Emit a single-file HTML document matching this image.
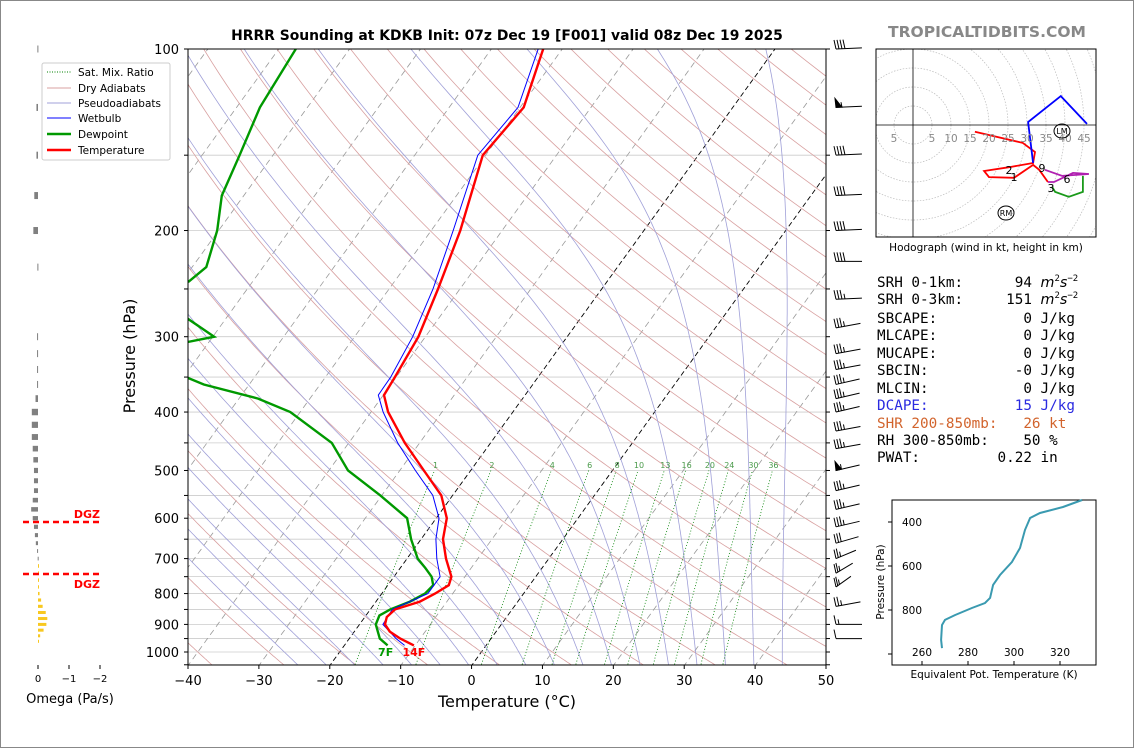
<!DOCTYPE html>
<html><head><meta charset="utf-8"><style>
html,body{margin:0;padding:0;background:#fff;}
svg{display:block;font-family:"DejaVu Sans","Liberation Sans",sans-serif;}
</style></head><body>
<svg id="s" width="1134" height="748" viewBox="0 0 1134 748" xmlns="http://www.w3.org/2000/svg">
<rect x="0.5" y="0.5" width="1133" height="747" fill="#fff" stroke="#888"/>
<defs><clipPath id="pc"><rect x="188" y="49" width="638" height="616"/></clipPath>
<clipPath id="hc"><rect x="876" y="49" width="220" height="188"/></clipPath></defs>
<g id="bg" clip-path="url(#pc)"></g>
<g id="prof" clip-path="url(#pc)"></g>
<g id="ax"></g>
<text x="507" y="40" font-size="13.9" font-weight="bold" text-anchor="middle">HRRR Sounding at KDKB Init: 07z Dec 19 [F001] valid 08z Dec 19 2025</text>
<text x="987" y="37" font-size="15.5" font-weight="bold" fill="#888" text-anchor="middle">TROPICALTIDBITS.COM</text>
<text x="507" y="707" font-size="16" text-anchor="middle">Temperature (°C)</text>
<text transform="translate(135,356) rotate(-90)" font-size="16" text-anchor="middle">Pressure (hPa)</text>
<g>
<rect x="42" y="63" width="128" height="97" fill="#fff" stroke="#ccc" rx="2"/>
<line x1="47" y1="72" x2="71" y2="72" stroke="green" stroke-dasharray="1,1.5"/>
<text x="78" y="76" font-size="10.5">Sat. Mix. Ratio</text>
<line x1="47" y1="88" x2="71" y2="88" stroke="#d9a0a0"/>
<text x="78" y="92" font-size="10.5">Dry Adiabats</text>
<line x1="47" y1="103" x2="71" y2="103" stroke="#a0a0d8"/>
<text x="78" y="107" font-size="10.5">Pseudoadiabats</text>
<line x1="47" y1="118" x2="71" y2="118" stroke="blue"/>
<text x="78" y="122" font-size="10.5">Wetbulb</text>
<line x1="47" y1="134" x2="71" y2="134" stroke="#090" stroke-width="2.5"/>
<text x="78" y="138" font-size="10.5">Dewpoint</text>
<line x1="47" y1="150" x2="71" y2="150" stroke="red" stroke-width="2.5"/>
<text x="78" y="154" font-size="10.5">Temperature</text>
</g>
<g id="om"></g>
<text x="70" y="703" font-size="13" text-anchor="middle">Omega (Pa/s)</text>
<g id="hodo"></g>
<text x="986" y="251" font-size="10.5" text-anchor="middle">Hodograph (wind in kt, height in km)</text>
<g font-family="'DejaVu Sans Mono','Liberation Mono',monospace" font-size="14.3">
<text x="877" y="287" xml:space="preserve">SRH 0-1km:      94 <tspan font-style="italic" font-family="DejaVu Sans">m</tspan><tspan font-size="9" dy="-6">2</tspan><tspan dy="6" font-style="italic" font-family="DejaVu Sans">s</tspan><tspan font-size="9" dy="-6">−2</tspan></text>
<text x="877" y="304" xml:space="preserve">SRH 0-3km:     151 <tspan font-style="italic" font-family="DejaVu Sans">m</tspan><tspan font-size="9" dy="-6">2</tspan><tspan dy="6" font-style="italic" font-family="DejaVu Sans">s</tspan><tspan font-size="9" dy="-6">−2</tspan></text>
<text x="877" y="323" xml:space="preserve">SBCAPE:          0 J/kg</text>
<text x="877" y="340" xml:space="preserve">MLCAPE:          0 J/kg</text>
<text x="877" y="358" xml:space="preserve">MUCAPE:          0 J/kg</text>
<text x="877" y="375" xml:space="preserve">SBCIN:          -0 J/kg</text>
<text x="877" y="393" xml:space="preserve">MLCIN:           0 J/kg</text>
<text x="877" y="410" xml:space="preserve" fill="#2a2ae0">DCAPE:          15 J/kg</text>
<text x="877" y="428" xml:space="preserve" fill="#d2642d">SHR 200-850mb:   26 kt</text>
<text x="877" y="445" xml:space="preserve">RH 300-850mb:    50 %</text>
<text x="877" y="462" xml:space="preserve">PWAT:         0.22 in</text>
</g>
<g id="te"></g>
</svg>
<script>
// ---- sounding data ----
const pLevels=[975,950,925,900,875,850,825,800,775,750,700,650,600,550,500,450,400,375,350,300,250,200,150,125,100];
const tempC=[-10.2,-12.8,-15.0,-16.4,-16.9,-16.5,-13.8,-12.5,-11.4,-11.9,-14.5,-16.9,-18.5,-21.6,-26.6,-32.1,-37.6,-39.9,-40.2,-41.0,-43.1,-45.9,-50.4,-49.5,-52.7];
const dewP=[975,950,900,870,850,825,800,775,750,725,700,650,600,550,500,450,400,380,360,320,300,280,260,243,230,200,175,150,125,100];
const dewC=[-13.9,-15.7,-17.7,-18.1,-17.2,-15.2,-13.9,-13.6,-14.7,-16.5,-18.5,-21.4,-24.1,-30.2,-37.3,-42.4,-51.4,-57.3,-66.4,-80,-69.8,-75.4,-85,-79,-78,-80.2,-83.1,-84.7,-86.7,-87.6];
const wbP=[975,950,900,850,800,750,700,650,600,550,500,450,400,375,350,300,250,200,150,125,100];
const wbC=[-11.5,-13.4,-16.7,-16.9,-13.5,-13.5,-15.8,-17.9,-19.6,-22.8,-27.8,-33.1,-38.3,-40.7,-40.8,-41.8,-43.8,-46.9,-51.1,-50.3,-53.4];
const xTicks=[-40,-30,-20,-10,0,10,20,30,40,50];
const pTicks=[100,200,300,400,500,600,700,800,900,1000];
const pGrid=[100,150,200,250,300,350,400,450,500,550,600,650,700,750,800,850,900,950,1000,1050];
const mixRatios=[1,2,4,6,8,10,13,16,20,24,30,36];
// wind barbs: pressure, speed (kt), direction (deg)
const barbP=[100,125,150,175,200,225,260,290,320,340,360,380,400,430,460,500,540,580,620,660,700,740,780,840,900,950];
const barbSpd=[40,55,40,40,40,40,35,35,35,35,35,35,35,35,35,55,35,35,35,30,25,25,25,25,15,10];
const barbDir=[275,275,275,275,275,270,275,290,290,290,295,295,295,290,290,295,295,295,295,300,310,320,325,290,270,270];
// omega (Pa/s) at pressure levels
const omP=[100,125,150,175,200,230,300,320,340,360,380,400,420,440,460,480,500,520,540,560,580,600,620,640,660,680,700,720,740,760,780,800,820,840,860,880,900,920,940,960];
const omV=[0.02,0.05,0.05,0.12,0.15,0.02,0.03,0.03,0.03,0.03,0.08,0.2,0.2,0.2,0.17,0.15,0.13,0.13,0.13,0.17,0.22,0.17,0.13,0.1,0.07,0.03,0.01,-0.01,-0.02,-0.03,-0.03,-0.05,-0.1,-0.15,-0.25,-0.3,-0.27,-0.18,-0.07,-0.02];
// hodograph (kt)
const hodoRedU=[16.3,28.9,32.1,31.6,25.3,18.7,20,26.6,31.6,33.2,35.5];
const hodoRedV=[-1.8,-4.7,-7.1,-10,-11.1,-12.1,-13.7,-13.9,-10.5,-11.8,-15];
const hodoMagU=[35.5,37.1,42.1,46.3,39.2,34.7];
const hodoMagV=[-15,-15,-12.6,-12.9,-13.4,-11.8];
const hodoGrnU=[44.7,44.7,41,37.4,36.6];
const hodoGrnV=[-13.4,-17.6,-18.9,-17.6,-16.3];
const hodoBluU=[31.6,30.3,38.9,45.8];
const hodoBluV=[-10,0.8,7.6,0.3];
// theta-e profile
const teP=[300,332,359,382,436,518,582,641,686,745,768,791,823,845,868,936,973];
const teV=[329.6,321.3,311.3,307,304.8,302.6,299.1,293.9,290.9,289.6,287.4,281.7,274.3,270,268.7,268.3,268.7];

const NS='http://www.w3.org/2000/svg';
function mk(parent,tag,attrs,txt){const e=document.createElementNS(NS,tag);for(const k in attrs)e.setAttribute(k,attrs[k]);if(txt!==undefined)e.textContent=txt;parent.appendChild(e);return e;}
function Y(p){return 49+603*Math.log10(p/100);}
function X(T,p){return 472+T*7.089+(665-Y(p))*0.722;}
function pathTP(Ts,Ps){return Ts.map((t,i)=>(i?'L':'M')+X(t,Ps[i]).toFixed(1)+','+Y(Ps[i]).toFixed(1)).join('');}
const bg=document.getElementById('bg'),prof=document.getElementById('prof'),ax=document.getElementById('ax');
pGrid.forEach(p=>{const l=mk(bg,'line',{x1:188,x2:826,y1:Y(p),y2:Y(p),stroke:'#ccc','stroke-width':0.8});

});
const pLine=[];for(let p=1060;p>=95;p-=5)pLine.push(p);
for(let T=-120;T<=50;T+=10){const blk=(T===0||T===-20);
const l=mk(bg,'path',{d:pathTP(pLine.map(()=>T),pLine),fill:'none',stroke:blk?'#000':'#999','stroke-width':blk?0.9:0.8,'stroke-dasharray':blk?'5,3':'6,4'});

}
for(let th=-40;th<=220;th+=10){const Ts=pLine.map(p=>(th+273.15)*Math.pow(p/1000,0.2857)-273.15);
const l=mk(bg,'path',{d:pathTP(Ts,pLine),fill:'none',stroke:'#d8a0a0','stroke-width':0.8});

}
function es(T){return 6.112*Math.exp(17.67*T/(T+243.5));}
for(let t0=-24;t0<=44;t0+=4){let T=t0+273.15;const Ts=[],Ps=[];
for(let p=1060;p>=95;p-=1){const rs=0.622*es(T-273.15)/(p-es(T-273.15));
if(p%5===0){Ts.push(T-273.15);Ps.push(p);}
const d=(287*T+2.5e6*rs)/(1005+2.5e6*2.5e6*rs*0.622/(287*T*T))/p;T-=d;}
const l=mk(bg,'path',{d:pathTP(Ts,Ps),fill:'none',stroke:'#a0a0d8','stroke-width':0.8});

}
mixRatios.forEach(w=>{const Ps=[],Ts=[];for(let p=1060;p>=500;p-=10){const e=w*p/(622+w);const a=Math.log(e/6.112);Ps.push(p);Ts.push(243.5*a/(17.67-a));}
const l=mk(bg,'path',{d:pathTP(Ts,Ps),fill:'none',stroke:'green','stroke-width':0.8,'stroke-dasharray':'1,2'});


const t=mk(bg,'text',{x:X(Ts[Ts.length-1],500)+1,y:468,'font-size':8,fill:'#4a9a4a','text-anchor':'middle'},String(w));

});
let e=mk(prof,'path',{d:pathTP(dewC,dewP),fill:'none',stroke:'#090','stroke-width':2.4});


e=mk(prof,'path',{d:pathTP(wbC,wbP),fill:'none',stroke:'blue','stroke-width':1});


e=mk(prof,'path',{d:pathTP(tempC,pLevels),fill:'none',stroke:'red','stroke-width':2.4});


e=mk(ax,'text',{x:X(dewC[0],975)-2,y:656,'font-size':11,'font-weight':'bold',fill:'#090','text-anchor':'middle'},Math.round(dewC[0]*9/5+32)+'F');


e=mk(ax,'text',{x:X(tempC[0],975),y:656,'font-size':11,'font-weight':'bold',fill:'red','text-anchor':'middle'},Math.round(tempC[0]*9/5+32)+'F');


e=mk(ax,'rect',{x:188,y:49,width:638,height:616,fill:'none',stroke:'#000','stroke-width':1});


xTicks.forEach(T=>{const x=188+(T+40)*638/90;mk(ax,'line',{x1:x,x2:x,y1:665,y2:669,stroke:'#000'});
const t=mk(ax,'text',{x:x,y:685,'font-size':13,'text-anchor':'middle'},T<0?'−'+(-T):String(T));

});
pGrid.forEach(p=>{if(p>1050)return;mk(ax,'line',{x1:184,x2:188,y1:Y(p),y2:Y(p),stroke:'#000'});mk(ax,'line',{x1:826,x2:830,y1:Y(p),y2:Y(p),stroke:'#000'});});
pTicks.forEach(p=>{const t=mk(ax,'text',{x:179,y:Y(p)+5,'font-size':13,'text-anchor':'end'},String(p));

});
barbP.forEach((p,i)=>{const y=Y(p),x0=836,sp=barbSpd[i],dr=barbDir[i]*Math.PI/180;
const L=26,dx=-Math.sin(dr),dy=Math.cos(dr);
const g=mk(ax,'g',{stroke:'#000','stroke-width':1,fill:'#000'});


const tx=x0,ty=y,sx=x0+L*Math.abs(dx),sy=y-L*dy*0.5;
mk(g,'line',{x1:tx,y1:ty,x2:sx,y2:sy});
let rem=sp,k=0;const ux=(sx-tx)/L,uy=(sy-ty)/L;
while(rem>=50){const bx=tx+ux*k*4,by=ty+uy*k*4;mk(g,'polygon',{points:`${bx},${by} ${bx+ux*6},${by+uy*6} ${bx-1},${by-9}`});rem-=50;k+=2;}
while(rem>=10){const bx=tx+ux*k*3,by=ty+uy*k*3;mk(g,'line',{x1:bx,y1:by,x2:bx-2,y2:by-9});rem-=10;k++;}
if(rem>=5){const bx=tx+ux*k*3,by=ty+uy*k*3;mk(g,'line',{x1:bx,y1:by,x2:bx-1,y2:by-5});}
});
const om=document.getElementById('om');
omP.forEach((p,i)=>{const v=omV[i],w=Math.abs(v)*31,y=Y(p);const h=Math.max(3,Math.min(7,603*Math.log10((p+10)/p)));
const r=mk(om,'rect',{x:v>0?38-w:38,y:y-h/2,width:Math.max(w,1),height:h,fill:v>0?'#808080':'#f8c820'});

});
[[522,'DGZ',518],[574,'DGZ',588]].forEach(d=>{const l=mk(om,'line',{x1:23,x2:99,y1:d[0],y2:d[0],stroke:'red','stroke-width':2.5,'stroke-dasharray':'6,4'});


const t=mk(om,'text',{x:100,y:d[2],'font-size':11,'font-weight':'bold',fill:'red','text-anchor':'end'},d[1]);

});
[0,-1,-2].forEach(v=>{const x=38-v*31;mk(om,'line',{x1:x,x2:x,y1:665,y2:669,stroke:'#000'});
const t=mk(om,'text',{x:x,y:682,'font-size':10,'text-anchor':'middle'},v<0?'−'+(-v):'0');

});
const hodo=document.getElementById('hodo');const HX=913,HY=125,HS=3.8;
const hg=mk(hodo,'g',{'clip-path':'url(#hc)'});
for(let r=5;r<=80;r+=5){mk(hg,'circle',{cx:HX,cy:HY,r:r*HS,fill:'none',stroke:'#bbb','stroke-width':0.7,'stroke-dasharray':'1.5,1.5'});}
mk(hg,'line',{x1:876,x2:1096,y1:HY,y2:HY,stroke:'#000','stroke-width':0.8});
mk(hg,'line',{x1:HX,x2:HX,y1:49,y2:237,stroke:'#000','stroke-width':0.8});
[-5,5,10,15,20,25,30,35,40,45].forEach(v=>{const t=mk(hodo,'text',{x:HX+v*HS,y:142,'font-size':10.5,fill:'#888','text-anchor':'middle'},String(Math.abs(v)));

});
function hp(U,V){return U.map((u,i)=>(i?'L':'M')+(HX+u*HS).toFixed(1)+','+(HY-V[i]*HS).toFixed(1)).join('');}
[[hodoRedU,hodoRedV,'red','hodo-red-segment'],[hodoMagU,hodoMagV,'#b020b0','hodo-magenta-segment'],[hodoGrnU,hodoGrnV,'#1a9a1a','hodo-green-segment'],[hodoBluU,hodoBluV,'blue','hodo-blue-segment']].forEach(s=>{
const l=mk(hg,'path',{d:hp(s[0],s[1]),fill:'none',stroke:s[2],'stroke-width':1.8});

});
[['1',1014,181],['2',1009,174],['3',1051,192],['6',1067,183],['9',1042,172]].forEach(k=>{const t=mk(hodo,'text',{x:k[1],y:k[2],'font-size':11,'text-anchor':'middle'},k[0]);

});
[['LM',1062,131],['RM',1006,213]].forEach(k=>{mk(hodo,'ellipse',{cx:k[1],cy:k[2],rx:8,ry:7,fill:'none',stroke:'#000'});
const t=mk(hodo,'text',{x:k[1],y:k[2]+3,'font-size':8,'text-anchor':'middle'},k[0]);

});
mk(hodo,'rect',{x:876,y:49,width:220,height:188,fill:'none',stroke:'#000'});
const te=document.getElementById('te');
const TX=v=>922+(v-260)*2.3, TY=p=>522+(p-400)*0.22;
mk(te,'rect',{x:892,y:500,width:204,height:165,fill:'#fff',stroke:'#000'});
const tl=mk(te,'path',{d:teV.map((v,i)=>(i?'L':'M')+TX(v).toFixed(1)+','+TY(teP[i]).toFixed(1)).join(''),fill:'none',stroke:'#3a9ab0','stroke-width':2});


[260,280,300,320].forEach(v=>{mk(te,'line',{x1:TX(v),x2:TX(v),y1:665,y2:661,stroke:'#000'});
const t=mk(te,'text',{x:TX(v),y:656,'font-size':10.5,'text-anchor':'middle'},String(v));

});
[400,600,800,1000].forEach(p=>{mk(te,'line',{x1:888,x2:892,y1:TY(p),y2:TY(p),stroke:'#000'});
if(p<1000){const t=mk(te,'text',{x:922,y:TY(p)+4,'font-size':10.5,'text-anchor':'end'},String(p));

}});
let tt=mk(te,'text',{x:994,y:678,'font-size':10.5,'text-anchor':'middle'},'Equivalent Pot. Temperature (K)');


tt=mk(te,'text',{transform:'translate(884,582) rotate(-90)','font-size':10.5,'text-anchor':'middle'},'Pressure (hPa)');


</script>
</body></html>
